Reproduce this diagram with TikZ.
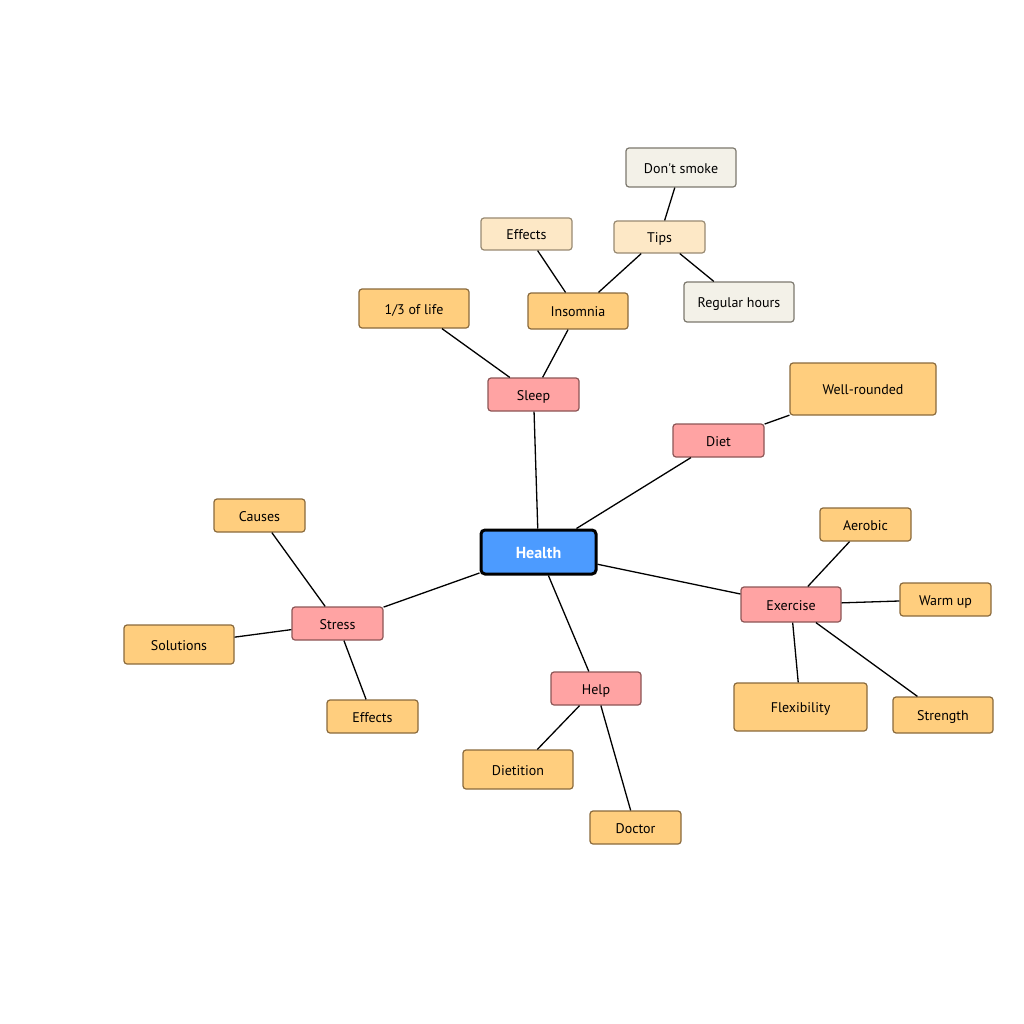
\documentclass[tikz,border=0pt]{standalone}
\usepackage{fontspec}
\setmainfont{PT Sans}[Ligatures=TeXOff]
\definecolor{orfill}{HTML}{FFCE7E}
\definecolor{ordraw}{HTML}{8A6A3C}
\definecolor{pkfill}{HTML}{FFA3A3}
\definecolor{pkdraw}{HTML}{8C5656}
\definecolor{ltfill}{HTML}{FDE8C6}
\definecolor{ltdraw}{HTML}{988A72}
\definecolor{gyfill}{HTML}{F3F1E8}
\definecolor{gydraw}{HTML}{7C786E}
\definecolor{blfill}{HTML}{4C9BFF}
\tikzset{
  base/.style={rounded corners=3pt, line width=1.2pt, inner sep=0pt, font=\fontsize{14}{16}\selectfont, text=black, text height=11.5pt, text depth=0pt},
  orbox/.style={base, fill=orfill, draw=ordraw},
  pkbox/.style={base, fill=pkfill, draw=pkdraw},
  ltbox/.style={base, fill=ltfill, draw=ltdraw},
  gybox/.style={base, fill=gyfill, draw=gydraw},
  root/.style={rounded corners=4pt, line width=3pt, inner sep=0pt, fill=blfill, draw=black, text=white, font=\fontsize{16}{18}\selectfont\bfseries, text height=12pt, text depth=0pt},
  wh/.style n args={2}{minimum width=#1pt, minimum height=#2pt},
  link/.style={line width=1.3pt, draw=black}
}
\begin{document}
\begin{tikzpicture}[x=1pt,y=-1pt]
\useasboundingbox (0,0) rectangle (1024,1024);
\node[root, wh={115}{44}] (health) at (538.5,552) {Health};
\node[pkbox, wh={91}{33}] (sleep) at (533.5,394.5) {Sleep};
\node[pkbox, wh={91}{33}] (diet) at (718.5,440.5) {Diet};
\node[pkbox, wh={100}{35}] (exercise) at (791,604.5) {Exercise};
\node[pkbox, wh={90}{33}] (help) at (596,688.5) {Help};
\node[pkbox, wh={91}{33}] (stress) at (337.5,623.5) {Stress};
\node[orbox, wh={110}{39}] (life) at (414,308.5) {1/3 of life};
\node[orbox, wh={100}{36}] (insomnia) at (578,311) {Insomnia};
\node[ltbox, wh={91}{32}] (effs) at (526.5,234) {Effects};
\node[ltbox, wh={91}{32}] (tips) at (659.5,237) {Tips};
\node[gybox, wh={110}{39}] (smoke) at (681,167.5) {Don't smoke};
\node[gybox, wh={110}{40}] (regular) at (739,302) {Regular hours};
\node[orbox, wh={146}{52}] (well) at (863,389) {Well-rounded};
\node[orbox, wh={91}{33}] (aerobic) at (865.5,524.5) {Aerobic};
\node[orbox, wh={91}{33}] (warm) at (945.5,599.5) {Warm up};
\node[orbox, wh={133}{48}] (flex) at (800.5,707) {Flexibility};
\node[orbox, wh={100}{36}] (strength) at (943,715) {Strength};
\node[orbox, wh={110}{39}] (dietition) at (518,769.5) {Dietition};
\node[orbox, wh={91}{33}] (doctor) at (635.5,827.5) {Doctor};
\node[orbox, wh={91}{33}] (causes) at (259.5,515.5) {Causes};
\node[orbox, wh={110}{39}] (solutions) at (179,644.5) {Solutions};
\node[orbox, wh={91}{33}] (effst) at (372.5,716.5) {Effects};
\path[link]
  (health) -- (sleep)
  (health) -- (diet)
  (health) -- (exercise)
  (health) -- (help)
  (health) -- (stress)
  (sleep) -- (life)
  (sleep) -- (insomnia)
  (insomnia) -- (effs)
  (insomnia) -- (tips)
  (tips) -- (smoke)
  (tips) -- (regular)
  (diet) -- (well)
  (exercise) -- (aerobic)
  (exercise) -- (warm)
  (exercise) -- (flex)
  (exercise) -- (strength)
  (help) -- (dietition)
  (help) -- (doctor)
  (stress) -- (causes)
  (stress) -- (solutions)
  (stress) -- (effst);
\end{tikzpicture}
\end{document}
